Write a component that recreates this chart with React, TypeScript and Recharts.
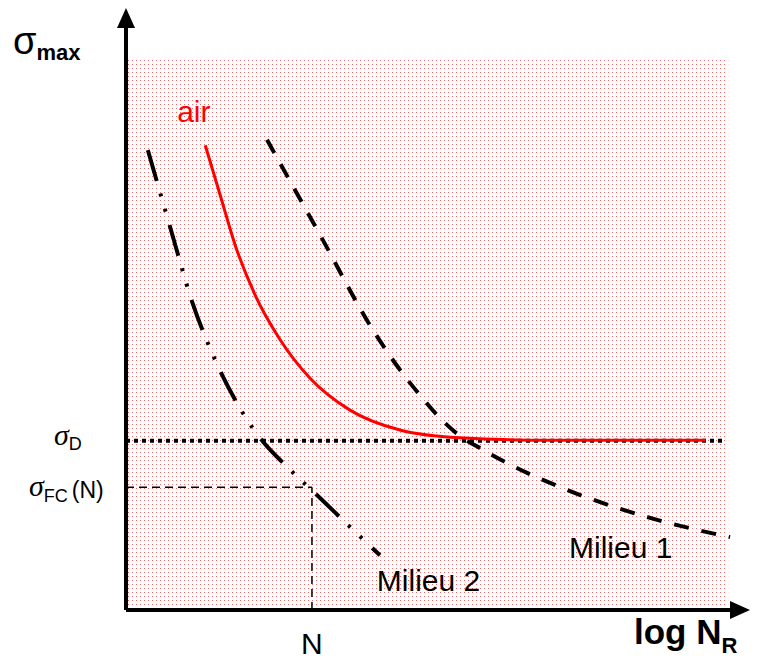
import { LineChart, Line, XAxis, YAxis, ReferenceArea, ReferenceLine, ReferenceDot } from "recharts";

// S-N (Wöhler) curves, arbitrary units: x = log N, y = sigma
const airX = [1.27, 1.51, 1.75, 2.07, 2.47, 2.95, 3.59, 4.39, 5.35, 6.79, 9.29];
const airY = [7.72, 6.89, 6.06, 5.23, 4.49, 3.85, 3.32, 2.99, 2.86, 2.82, 2.82];

const milieu1X = [2.26, 3.11, 3.94, 4.39, 4.71, 5.03, 5.38, 5.67, 6.11, 6.96, 8.4, 9.68];
const milieu1Y = [7.81, 6.23, 4.68, 3.99, 3.57, 3.19, 2.87, 2.69, 2.44, 2.04, 1.53, 1.21];

const milieu2X = [0.35, 0.71, 1.06, 1.43, 1.91, 2.2, 2.55, 3.11, 3.59, 4.07];
const milieu2Y = [7.64, 6.35, 5.12, 4.15, 3.21, 2.79, 2.41, 1.86, 1.38, 0.91];

const sigmaD = 2.81;
const sigmaFC = 2.04;
const nValue = 2.98;
const xMax = 10;
const yMax = 10;
const shadeX = 9.65;
const shadeY = 9.17;
const dottedEnd = 9.6;

const toRows = (xs: number[], ys: number[]) => xs.map((x, i) => ({ x, y: ys[i] }));

const airData = toRows(airX, airY);
const milieu1Data = toRows(milieu1X, milieu1Y);
const milieu2Data = toRows(milieu2X, milieu2Y);

const FONT = "'Liberation Sans', Arial, sans-serif";
const SERIF = "'Liberation Serif', 'Times New Roman', serif";

// axis with arrowhead
const arrowShape = (dir: "up" | "right") => (p: any) => {
  const { x1, y1, x2, y2 } = p;
  const head =
    dir === "up"
      ? `${x2 - 9},${y2 + 20} ${x2 + 9},${y2 + 20} ${x2},${y2}`
      : `${x2 - 20},${y2 - 9} ${x2 - 20},${y2 + 9} ${x2},${y2}`;
  const ex = dir === "up" ? x2 : x2 - 18;
  const ey = dir === "up" ? y2 + 18 : y2;
  return (
    <g>
      <line x1={x1} y1={y1} x2={ex} y2={ey} stroke="#000" strokeWidth={4} />
      <polygon points={head} fill="#000" />
    </g>
  );
};

const textDot = (txt: string, color: string, size: number) => (p: any) => (
  <text x={p.cx} y={p.cy} fill={color} fontSize={size} fontFamily={FONT}>
    {txt}
  </text>
);

const YTick = (props: any) => {
  const { y, payload } = props;
  if (Math.abs(payload.value - sigmaD) < 0.01) {
    return (
      <text x={54} y={y + 4} fill="#000">
        <tspan fontFamily={SERIF} fontStyle="italic" fontSize={30}>σ</tspan>
        <tspan fontFamily={FONT} fontSize={18} dy={5}>D</tspan>
      </text>
    );
  }
  return (
    <text x={29} y={y + 9} fill="#000">
      <tspan fontFamily={SERIF} fontStyle="italic" fontSize={30}>σ</tspan>
      <tspan fontFamily={FONT} fontSize={18} dy={6}>FC</tspan>
      <tspan fontFamily={FONT} fontSize={23} dy={-4} dx={4}>(N)</tspan>
    </text>
  );
};

const XTick = (props: any) => {
  const { x, y } = props;
  return (
    <text x={x} y={y + 36} textAnchor="middle" fill="#000" fontFamily={FONT} fontSize={30}>
      N
    </text>
  );
};

export default function App() {
  return (
    <div style={{ position: "absolute", left: 0, top: 0, width: 758, height: 663, background: "#fff" }}>
      <svg width={0} height={0} style={{ position: "absolute" }}>
        <defs>
          <pattern id="pinkDots" width={4} height={4} patternUnits="userSpaceOnUse">
            <rect x={0} y={0} width={1} height={1} fill="#f46a6a" />
          </pattern>
        </defs>
      </svg>
      <LineChart
        width={758}
        height={663}
        margin={{ top: 8, right: 8, bottom: 13, left: 16 }}
      >
        <XAxis
          type="number"
          dataKey="x"
          domain={[0, xMax]}
          ticks={[nValue]}
          tick={<XTick />}
          axisLine={false}
          tickLine={false}
          height={40}
          allowDataOverflow
        />
        <YAxis
          type="number"
          dataKey="y"
          domain={[0, yMax]}
          ticks={[sigmaFC, sigmaD]}
          tick={<YTick />}
          axisLine={false}
          tickLine={false}
          width={110}
          allowDataOverflow
        />
        <ReferenceArea x1={0} x2={shadeX} y1={0} y2={shadeY} fill="url(#pinkDots)" fillOpacity={1} stroke="none" />
        <ReferenceLine
          segment={[{ x: 0, y: sigmaD }, { x: dottedEnd, y: sigmaD }]}
          stroke="#000"
          strokeWidth={4}
          strokeDasharray="4 4"
        />
        <ReferenceLine
          segment={[{ x: 0, y: sigmaFC }, { x: nValue, y: sigmaFC }]}
          stroke="#000"
          strokeWidth={1.5}
          strokeDasharray="8 5"
        />
        <ReferenceLine
          segment={[{ x: nValue, y: 0 }, { x: nValue, y: sigmaFC }]}
          stroke="#000"
          strokeWidth={1.5}
          strokeDasharray="8 5"
        />
        <Line
          data={milieu2Data}
          dataKey="y"
          type="monotone"
          stroke="#000"
          strokeWidth={4}
          strokeDasharray="32 13 3 13 3 14"
          dot={false}
          isAnimationActive={false}
        />
        <Line
          data={milieu1Data}
          dataKey="y"
          type="monotone"
          stroke="#000"
          strokeWidth={4}
          strokeDasharray="15 13"
          dot={false}
          isAnimationActive={false}
        />
        <Line
          data={airData}
          dataKey="y"
          type="monotone"
          stroke="#ff0000"
          strokeWidth={3}
          dot={false}
          isAnimationActive={false}
        />
        <ReferenceLine segment={[{ x: 0, y: 0 }, { x: 0, y: yMax }]} shape={arrowShape("up")} />
        <ReferenceLine segment={[{ x: 0, y: 0 }, { x: xMax, y: 0 }]} shape={arrowShape("right")} />
        <ReferenceDot x={0.82} y={8.1} r={0} shape={textDot("air", "#ff0000", 30)} />
        <ReferenceDot x={7.1} y={0.86} r={0} shape={textDot("Milieu 1", "#000", 30)} />
        <ReferenceDot x={4.02} y={0.32} r={0} shape={textDot("Milieu 2", "#000", 30)} />
      </LineChart>
      <div style={{ position: "absolute", left: 13, top: 20, fontFamily: FONT, color: "#000", whiteSpace: "nowrap" }}>
        <span style={{ fontSize: 38 }}>σ</span>
        <span style={{ fontSize: 22, fontWeight: "bold", position: "relative", top: 6 }}>max</span>
      </div>
      <div style={{ position: "absolute", left: 634, top: 612, fontFamily: FONT, color: "#000", whiteSpace: "nowrap", fontWeight: "bold" }}>
        <span style={{ fontSize: 35 }}>log N</span>
        <span style={{ fontSize: 22, position: "relative", top: 9 }}>R</span>
      </div>
    </div>
  );
}
